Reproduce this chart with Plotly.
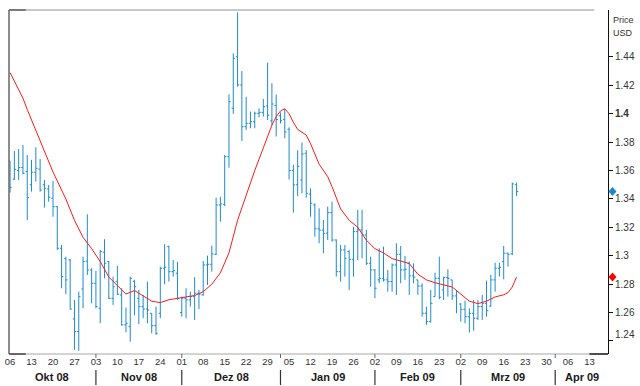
import numpy as np
import plotly.graph_objects as go

# ---------------- data ----------------
start_date = "2008-10-06"   # first bar, daily bars on weekdays

opens = [1.3668, 1.3540, 1.3600, 1.3621, 1.3593, 1.3500, 1.3588, 1.3610, 1.3500, 1.3470,
         1.3405, 1.3346, 1.3053, 1.2980, 1.2970, 1.2555, 1.2466, 1.2766, 1.2962, 1.2900,
         1.2806, 1.2630, 1.3025, 1.2959, 1.2700, 1.2818, 1.2724, 1.2513, 1.2501, 1.2820,
         1.2700, 1.2642, 1.2625, 1.2595, 1.2508, 1.2595, 1.2912, 1.3064, 1.2888, 1.2877,
         1.2600, 1.2700, 1.2689, 1.2712, 1.2736, 1.2724, 1.2935, 1.2940, 1.3010, 1.3358,
         1.3362, 1.3698, 1.4039, 1.4402, 1.4203, 1.3909, 1.3933, 1.3944, 1.4003, 1.4010,
         1.4055, 1.3950, 1.4058, 1.3985, 1.3960, 1.3891, 1.3600, 1.3500, 1.3534, 1.3722,
         1.3435, 1.3358, 1.3190, 1.3180, 1.3160, 1.3304, 1.3111, 1.2888, 1.3041, 1.3029,
         1.2975, 1.3170, 1.3182, 1.3146, 1.2947, 1.2900, 1.2830, 1.2841, 1.2830, 1.2818,
         1.2935, 1.3010, 1.2900, 1.2947, 1.2858, 1.2830, 1.2787, 1.2595, 1.2536, 1.2712,
         1.2841, 1.2759, 1.2846, 1.2830, 1.2717, 1.2660, 1.2623, 1.2571, 1.2595, 1.2560,
         1.2642, 1.2665, 1.2645, 1.2830, 1.2912, 1.2959, 1.3018, 1.3013, 1.3500]
highs = [1.3668, 1.3738, 1.3752, 1.3780, 1.3710, 1.3675, 1.3764, 1.3682, 1.3534, 1.3499,
         1.3527, 1.3351, 1.3076, 1.2994, 1.2977, 1.2689, 1.2747, 1.2994, 1.3292, 1.2912,
         1.2893, 1.3041, 1.3116, 1.2963, 1.2853, 1.2928, 1.2771, 1.2635, 1.2853, 1.2830,
         1.2759, 1.2724, 1.2818, 1.2595, 1.2642, 1.2923, 1.3081, 1.3071, 1.2970, 1.2958,
         1.2712, 1.2771, 1.2747, 1.2849, 1.2759, 1.2963, 1.3001, 1.3071, 1.3409, 1.3416,
         1.3710, 1.4137, 1.4426, 1.4715, 1.4301, 1.4120, 1.4015, 1.4015, 1.4039, 1.4104,
         1.4360, 1.4215, 1.4137, 1.4010, 1.4035, 1.3905, 1.3640, 1.3743, 1.3797, 1.3745,
         1.3475, 1.3370, 1.3334, 1.3252, 1.3346, 1.3381, 1.3115, 1.3076, 1.3076, 1.3041,
         1.3205, 1.3323, 1.3323, 1.3182, 1.2994, 1.2905, 1.3053, 1.3064, 1.2900, 1.2947,
         1.3088, 1.3069, 1.2999, 1.2959, 1.2947, 1.2830, 1.2806, 1.2642, 1.2759, 1.2881,
         1.2994, 1.2853, 1.2905, 1.2830, 1.2759, 1.2665, 1.2684, 1.2630, 1.2689, 1.2689,
         1.2724, 1.2825, 1.2865, 1.2951, 1.2951, 1.3069, 1.3022, 1.3515, 1.3515]
lows = [1.3445, 1.3534, 1.3534, 1.3574, 1.3252, 1.3452, 1.3522, 1.3452, 1.3339, 1.3381,
        1.3275, 1.3041, 1.2771, 1.2729, 1.2620, 1.2337, 1.2330, 1.2630, 1.2865, 1.2665,
        1.2630, 1.2525, 1.2841, 1.2695, 1.2654, 1.2724, 1.2508, 1.2461, 1.2395, 1.2580,
        1.2518, 1.2560, 1.2525, 1.2454, 1.2442, 1.2560, 1.2799, 1.2818, 1.2853, 1.2689,
        1.2571, 1.2560, 1.2642, 1.2548, 1.2625, 1.2719, 1.2794, 1.2888, 1.3005, 1.3240,
        1.3350, 1.3620, 1.4000, 1.4191, 1.3808, 1.3886, 1.3898, 1.3898, 1.3975, 1.3980,
        1.3956, 1.3920, 1.3840, 1.3933, 1.3828, 1.3537, 1.3304, 1.3421, 1.3440, 1.3410,
        1.3275, 1.3135, 1.3088, 1.3018, 1.3111, 1.3099, 1.2853, 1.2818, 1.2853, 1.2759,
        1.2853, 1.2970, 1.2982, 1.2935, 1.2782, 1.2701, 1.2806, 1.2818, 1.2747, 1.2747,
        1.2724, 1.2806, 1.2830, 1.2724, 1.2806, 1.2724, 1.2571, 1.2513, 1.2529, 1.2712,
        1.2694, 1.2689, 1.2712, 1.2689, 1.2595, 1.2536, 1.2525, 1.2459, 1.2473, 1.2548,
        1.2548, 1.2571, 1.2642, 1.2747, 1.2853, 1.2834, 1.2923, 1.3005, 1.3420]
closes = [1.3482, 1.3609, 1.3621, 1.3581, 1.3410, 1.3588, 1.3616, 1.3463, 1.3475, 1.3412,
          1.3346, 1.3053, 1.2853, 1.2830, 1.2625, 1.2466, 1.2712, 1.2959, 1.2900, 1.2806,
          1.2642, 1.3029, 1.2947, 1.2700, 1.2782, 1.2729, 1.2513, 1.2525, 1.2841, 1.2782,
          1.2642, 1.2625, 1.2618, 1.2508, 1.2454, 1.2912, 1.2920, 1.2888, 1.2895, 1.2701,
          1.2701, 1.2689, 1.2712, 1.2736, 1.2729, 1.2935, 1.2940, 1.3013, 1.3358, 1.3365,
          1.3698, 1.4085, 1.4391, 1.4203, 1.3909, 1.3933, 1.3944, 1.4003, 1.4010, 1.4050,
          1.3990, 1.4069, 1.3960, 1.3951, 1.3872, 1.3600, 1.3499, 1.3630, 1.3717, 1.3440,
          1.3370, 1.3190, 1.3180, 1.3158, 1.3304, 1.3111, 1.2888, 1.3041, 1.2982, 1.2975,
          1.3170, 1.3182, 1.3146, 1.2947, 1.2900, 1.2771, 1.2841, 1.2830, 1.2818, 1.2935,
          1.3010, 1.2900, 1.2905, 1.2858, 1.2850, 1.2787, 1.2595, 1.2536, 1.2665, 1.2841,
          1.2708, 1.2846, 1.2841, 1.2717, 1.2747, 1.2623, 1.2571, 1.2595, 1.2560, 1.2642,
          1.2665, 1.2613, 1.2830, 1.2912, 1.2919, 1.3018, 1.3010, 1.3506, 1.3452]

# moving average line (red), read at these bar positions
ma_idx = [0, 2, 3, 4, 6, 8, 10, 13, 14, 15, 17, 19, 21, 23, 25, 27, 29, 31, 33, 35,
          37, 39, 41, 43, 45, 47, 49, 51, 53, 55, 57, 59, 61, 62, 63, 64, 65, 66, 67, 68,
          69, 70, 72, 74, 75, 77, 79, 81, 83, 85, 87, 89, 91, 93, 95, 97, 99, 101, 103, 105,
          107, 109, 111, 113, 115, 116, 117, 118]
ma_val = [1.4290, 1.4170, 1.4110, 1.4030, 1.3880, 1.3730, 1.3590, 1.3400, 1.3330, 1.3250,
          1.3130, 1.3050, 1.2960, 1.2850, 1.2790, 1.2730, 1.2755, 1.2715, 1.2680, 1.2670,
          1.2690, 1.2700, 1.2710, 1.2720, 1.2747, 1.2800, 1.2880, 1.3020, 1.3250, 1.3430,
          1.3600, 1.3760, 1.3920, 1.3980, 1.4020, 1.4035, 1.4000, 1.3940, 1.3890, 1.3870,
          1.3850, 1.3790, 1.3645, 1.3557, 1.3487, 1.3330, 1.3250, 1.3200, 1.3110, 1.3050,
          1.3020, 1.2980, 1.2965, 1.2945, 1.2870, 1.2830, 1.2810, 1.2795, 1.2780, 1.2730,
          1.2680, 1.2663, 1.2680, 1.2710, 1.2725, 1.2740, 1.2780, 1.2850]

week_start, week_end = "2008-10-06", "2009-04-13"
month_labels = ["Okt 08", "Nov 08", "Dez 08", "Jan 09", "Feb 09", "Mrz 09", "Apr 09"]
month_starts = ["2008-11-03", "2008-12-01", "2009-01-01", "2009-02-02", "2009-03-02", "2009-04-01"]
y_ticks = [1.24, 1.26, 1.28, 1.30, 1.32, 1.34, 1.36, 1.38, 1.40, 1.42, 1.44]

# ---------------- helpers ----------------
def bpos(d):
    return int(np.busday_count(np.datetime64(start_date), np.datetime64(d)))

n = len(closes)
xs = list(range(n))
mondays = np.arange(np.datetime64(week_start), np.datetime64(week_end) + 1, 7)
tickvals = [bpos(d) for d in mondays]
ticktext = [str(d)[8:10] for d in mondays]

def ylab(v):
    if abs(v - 1.40) < 1e-9:
        return "<b>1.4</b>"
    return "%g" % v

# lowest label is drawn a little above its tick (as in the reference)
ticktext_y = [("" if i == 0 else ylab(v)) for i, v in enumerate(y_ticks)]

X0, X1 = -0.25, 139.3
Y0, Y1 = 1.2308, 1.4731
H_PLOT = 344.0

blue = "#1e8ccc"
red = "#ff1a1a"

fig = go.Figure()
fig.add_trace(go.Ohlc(
    x=xs, open=opens, high=highs, low=lows, close=closes,
    increasing=dict(line=dict(color=blue, width=1)),
    decreasing=dict(line=dict(color=blue, width=1)),
    tickwidth=0.4, showlegend=False, hoverinfo="skip"))
fig.add_trace(go.Scatter(x=ma_idx, y=ma_val, mode="lines",
                         line=dict(color=red, width=1), showlegend=False,
                         hoverinfo="skip"))

shapes = []
# last-value diamonds on the price axis (anchored at the data values)
for val, col in [(closes[-1], "#1b88c8"), (ma_val[-1], "#ff0000")]:
    shapes.append(dict(type="path", xref="paper", yref="y", xsizemode="pixel",
                       ysizemode="pixel", xanchor=1.0, yanchor=val,
                       path="M 0.5,0 L 4.5,4.5 L 8.5,0 L 4.5,-4.5 Z",
                       fillcolor=col, line=dict(width=0), layer="above"))
# frame
shapes.append(dict(type="line", xref="paper", yref="paper", x0=0, x1=0.977, y0=1, y1=1,
                   line=dict(color="#c9c9cd", width=2)))
shapes.append(dict(type="line", xref="paper", yref="paper", x0=0, x1=0.028, y0=1, y1=1,
                   line=dict(color="#7a7a7a", width=2)))
shapes.append(dict(type="line", xref="paper", yref="paper", x0=0, x1=0, y0=0, y1=1,
                   line=dict(color="#666666", width=1.5)))
shapes.append(dict(type="line", xref="paper", yref="paper", x0=0, x1=1, y0=0, y1=0,
                   line=dict(color="#a8a8a8", width=1.2)))
shapes.append(dict(type="line", xref="paper", yref="paper", x0=0, x1=0.028, y0=0, y1=0,
                   line=dict(color="#444444", width=1.5)))
shapes.append(dict(type="line", xref="paper", yref="paper", x0=0.969, x1=1, y0=0, y1=0,
                   line=dict(color="#222222", width=1.5)))

# month separators, boundary ticks and month labels
bounds = [bpos(d) for d in month_starts]
edges = [X0] + bounds + [X1]
annotations = []
for b in bounds:
    shapes.append(dict(type="line", xref="x", yref="paper", x0=b, x1=b,
                       y0=-16 / H_PLOT, y1=-31 / H_PLOT,
                       line=dict(color="#333333", width=1.2)))
    shapes.append(dict(type="line", xref="x", yref="paper", x0=b, x1=b,
                       y0=0, y1=-4 / H_PLOT, line=dict(color="#666666", width=1)))
for i, lab in enumerate(month_labels):
    annotations.append(dict(x=(edges[i] + edges[i + 1]) / 2, y=-23 / H_PLOT,
                            xref="x", yref="paper", text="<b>%s</b>" % lab,
                            showarrow=False, xanchor="center", yanchor="middle",
                            font=dict(size=11, color="#1a1a1a")))
annotations.append(dict(x=1, y=y_ticks[0], xref="paper", yref="y", text=ylab(y_ticks[0]),
                        showarrow=False, xanchor="left", xshift=5, yshift=6,
                        yanchor="middle", font=dict(size=10, color="#333333")))
annotations.append(dict(x=1, y=(354 - 20) / H_PLOT, xref="paper", yref="paper",
                        text="Price", showarrow=False, xanchor="left", xshift=3,
                        yanchor="middle", font=dict(size=9, color="#333333")))
annotations.append(dict(x=1, y=(354 - 33) / H_PLOT, xref="paper", yref="paper",
                        text="USD", showarrow=False, xanchor="left", xshift=3,
                        yanchor="middle", font=dict(size=9, color="#333333")))

fig.update_layout(
    width=640, height=386,
    margin=dict(l=5, r=28, t=10, b=32),
    paper_bgcolor="white", plot_bgcolor="white",
    font=dict(family="Arial, Liberation Sans, sans-serif", color="#333333"),
    shapes=shapes, annotations=annotations,
    xaxis=dict(range=[X0, X1], tickmode="array", tickvals=tickvals, ticktext=ticktext,
               showgrid=False, zeroline=False, showline=False, ticks="",
               tickfont=dict(size=9.5, color="#333333"),
               rangeslider=dict(visible=False), fixedrange=True),
    yaxis=dict(range=[Y0, Y1], side="right", tickmode="array", tickvals=y_ticks,
               ticktext=ticktext_y, showgrid=False, zeroline=False,
               showline=True, linecolor="#111111", linewidth=1,
               ticks="outside", ticklen=4, tickcolor="#111111",
               tickfont=dict(size=10, color="#333333"), fixedrange=True),
)

fig.write_html("out.html", config={"displayModeBar": False},
               post_script="document.body.style.margin='0';document.body.style.overflow='hidden';")
